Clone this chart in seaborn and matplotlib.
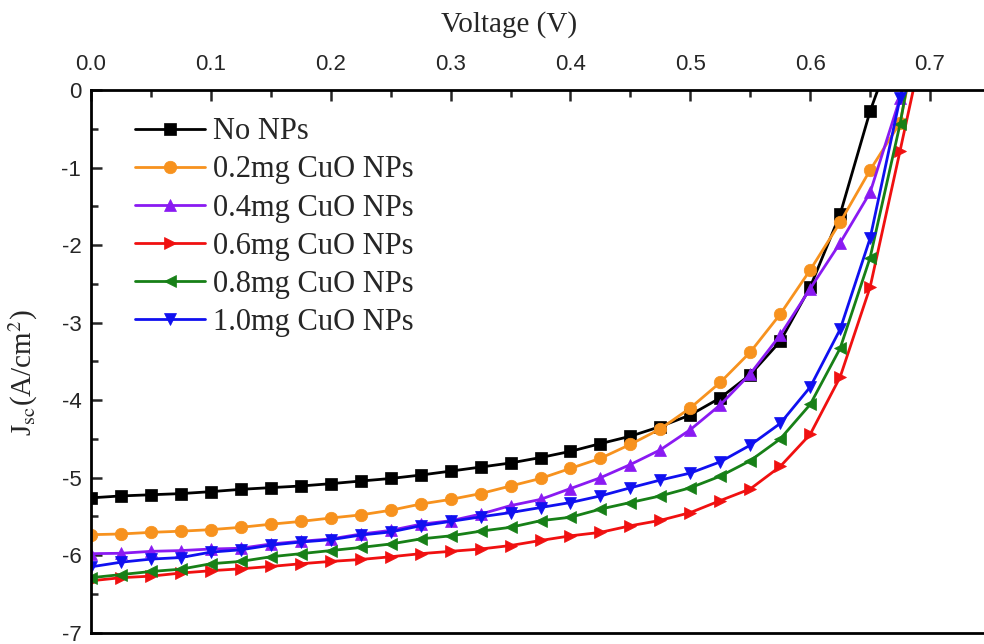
import numpy as np
import pandas as pd
import matplotlib
matplotlib.use("Agg")
import matplotlib.pyplot as plt
from matplotlib.ticker import MultipleLocator
import seaborn as sns

# Voltage grid (V), one point every 0.025 V
voltage = [0.000, 0.025, 0.050, 0.075, 0.100, 0.125, 0.150, 0.175, 0.200, 0.225,
           0.250, 0.275, 0.300, 0.325, 0.350, 0.375, 0.400, 0.425, 0.450, 0.475,
           0.500, 0.525, 0.550, 0.575, 0.600, 0.625, 0.650, 0.675, 0.700]

# Current density (A/cm^2)
no_nps = [-5.26, -5.235, -5.22, -5.205, -5.18, -5.15, -5.128, -5.107, -5.077, -5.043,
          -5.01, -4.966, -4.915, -4.863, -4.81, -4.74, -4.66, -4.56, -4.465, -4.34,
          -4.19, -3.97, -3.67, -3.24, -2.54, -1.60, -0.27, 0.8]
cuo_02 = [-5.735, -5.726, -5.705, -5.69, -5.67, -5.64, -5.60, -5.564, -5.52, -5.48,
          -5.42, -5.34, -5.28, -5.205, -5.107, -5.01, -4.88, -4.75, -4.57, -4.37,
          -4.10, -3.77, -3.38, -2.89, -2.32, -1.705, -1.03, -0.42, 1.5]
cuo_04 = [-5.98, -5.975, -5.95, -5.94, -5.92, -5.91, -5.855, -5.82, -5.79, -5.727,
          -5.68, -5.60, -5.555, -5.47, -5.36, -5.28, -5.14, -5.00, -4.83, -4.64,
          -4.38, -4.06, -3.66, -3.16, -2.56, -1.97, -1.32, -0.10, 1.5]
cuo_06 = [-6.33, -6.29, -6.27, -6.23, -6.20, -6.175, -6.145, -6.11, -6.08, -6.055,
          -6.02, -5.98, -5.95, -5.92, -5.875, -5.81, -5.75, -5.705, -5.62, -5.55,
          -5.45, -5.295, -5.145, -4.855, -4.44, -3.70, -2.54, -0.78, 1.0]
cuo_08 = [-6.29, -6.25, -6.21, -6.18, -6.11, -6.08, -6.02, -5.98, -5.94, -5.90,
          -5.855, -5.79, -5.75, -5.69, -5.64, -5.555, -5.51, -5.405, -5.32, -5.235,
          -5.13, -4.98, -4.78, -4.50, -4.055, -3.33, -2.16, -0.435, 1.7]
cuo_10 = [-6.15, -6.09, -6.05, -6.03, -5.96, -5.93, -5.87, -5.83, -5.80, -5.74,
          -5.70, -5.62, -5.564, -5.505, -5.45, -5.385, -5.32, -5.235, -5.13, -5.03,
          -4.94, -4.795, -4.58, -4.30, -3.83, -3.085, -1.91, -0.10, 1.2]

labels = ["No NPs", "0.2mg CuO NPs", "0.4mg CuO NPs",
          "0.6mg CuO NPs", "0.8mg CuO NPs", "1.0mg CuO NPs"]
series = [no_nps, cuo_02, cuo_04, cuo_06, cuo_08, cuo_10]
colors = ["#000000", "#F7921E", "#8A1AF2", "#F01010", "#178017", "#1010F0"]
markers = ["s", "o", "^", ">", "<", "v"]

sns.set_style("ticks")
plt.rcParams["font.family"] = ["Liberation Sans", "DejaVu Sans"]
plt.rcParams["axes.unicode_minus"] = False
plt.rcParams["mathtext.fontset"] = "stix"

fig = plt.figure(figsize=(9.84, 6.44), dpi=100)
ax = fig.add_axes([0.0925, 0.0175, 0.9075, 0.8425])

for lab, vals, col, mk in zip(labels, series, colors, markers):
    df = pd.DataFrame({"V": voltage[:len(vals)], "J": vals})
    sns.lineplot(data=df, x="V", y="J", color=col, marker=mk, label=lab,
                 linewidth=2.0, markersize=9, markeredgewidth=0.5,
                 markeredgecolor=col, ax=ax)

ax.set_xlim(0, 0.745)
ax.set_ylim(-7, 0)
ax.xaxis.set_major_locator(MultipleLocator(0.1))
ax.xaxis.set_minor_locator(MultipleLocator(0.05))
ax.yaxis.set_major_locator(MultipleLocator(1))
ax.yaxis.set_minor_locator(MultipleLocator(0.5))
ax.xaxis.set_major_formatter(matplotlib.ticker.FormatStrFormatter("%.1f"))
ax.xaxis.tick_top()
ax.xaxis.set_label_position("top")

ax.tick_params(axis="x", which="both", direction="in", top=True, bottom=False,
               labeltop=True, labelbottom=False, width=1.8, labelsize=16, pad=11)
ax.tick_params(axis="y", which="both", direction="in", left=True, right=False,
               width=1.8, labelsize=16, pad=7)
ax.tick_params(which="major", length=8)
ax.tick_params(which="minor", length=5)

for side in ["top", "left", "bottom"]:
    ax.spines[side].set_linewidth(2.0)
    ax.spines[side].set_color("black")
ax.spines["right"].set_visible(False)

ax.set_xlabel("Voltage (V)", fontsize=21, family="Liberation Serif")
ax.xaxis.set_label_coords(0.468, 1.108)
ax.set_ylabel(r"J$\mathrm{_{sc}}$(A/cm$\mathrm{^2}$)", fontsize=21,
              family="Liberation Serif")
ax.yaxis.set_label_coords(-0.057, 0.48)

leg = ax.legend(loc="upper left", bbox_to_anchor=(0.049, 0.95), frameon=False,
                prop={"family": "Liberation Serif", "size": 22},
                handlelength=2.3, handletextpad=0.25, labelspacing=0.3,
                borderpad=0, borderaxespad=0)

fig.savefig("out.png", dpi=100)
